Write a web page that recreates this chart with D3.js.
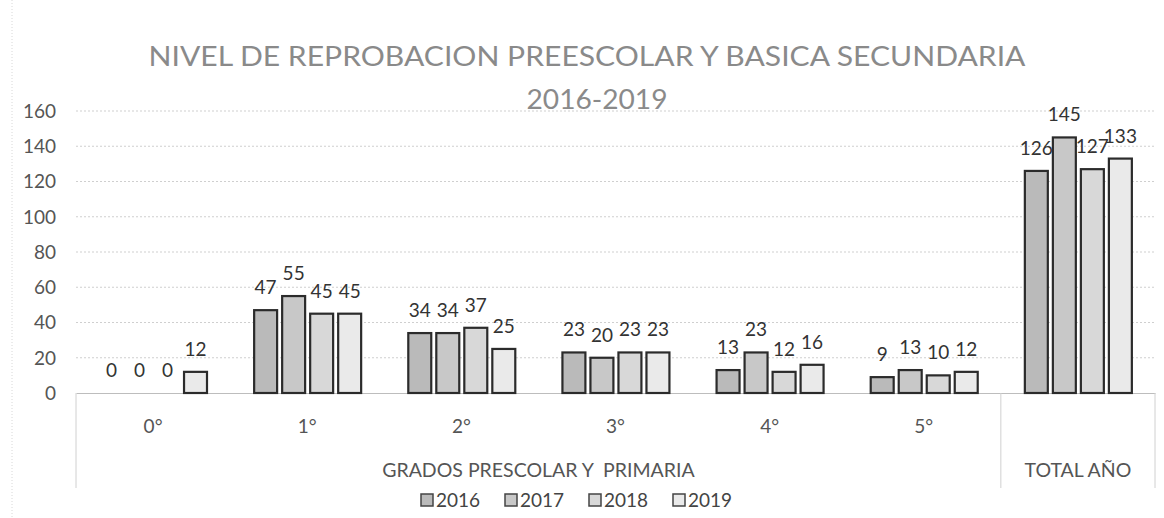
<!DOCTYPE html>
<html>
<head>
<meta charset="utf-8">
<script src="https://cdn.jsdelivr.net/npm/d3@7"></script>
<style>
  html, body { margin: 0; padding: 0; background: #fff; }
  svg { display: block; font-family: Lato, "Open Sans", sans-serif; }
</style>
</head>
<body>
<svg id="chart" width="1164" height="518"></svg>
<script>
// Categories (grades + yearly total) and series per year
const categories = ["0°", "1°", "2°", "3°", "4°", "5°", "TOTAL AÑO"];
const tickLabels = ["0°", "1°", "2°", "3°", "4°", "5°", ""];
const years = ["2016", "2017", "2018", "2019"];
const values2016 = [0, 47, 34, 23, 13, 9, 126];
const values2017 = [0, 55, 34, 20, 23, 13, 145];
const values2018 = [0, 45, 37, 23, 12, 10, 127];
const values2019 = [12, 45, 25, 23, 16, 12, 133];
const yTicks = [0, 20, 40, 60, 80, 100, 120, 140, 160];
const groupLabels = ["GRADOS PRESCOLAR Y  PRIMARIA", "TOTAL AÑO"];
const titleLine1 = "NIVEL DE REPROBACION PREESCOLAR Y BASICA SECUNDARIA";
const titleLine2 = "2016-2019";

const series = [values2016, values2017, values2018, values2019];
const fills = ["#bababa", "#c8c8c8", "#d8d8d8", "#eaeaea"];

const svg = d3.select("#chart");
const plotLeft = 76, plotRight = 1155, plotTop = 111, plotBottom = 393;

const x0 = d3.scaleBand().domain(categories).range([plotLeft, plotRight]).padding(0);
const x1 = d3.scaleBand().domain(years).range([24, 131]).paddingInner(0.18).paddingOuter(0);
const y = d3.scaleLinear().domain([0, 160]).range([plotBottom, plotTop]);

// chart frame hint on the left
svg.append("line").attr("x1", 12).attr("x2", 12).attr("y1", 0).attr("y2", 518)
  .attr("stroke", "#d8d8d8").attr("stroke-dasharray", "1,2");

// Title
svg.append("text").attr("x", 587).attr("y", 66).attr("text-anchor", "middle")
  .attr("font-size", 27).attr("fill", "#8a8a8a").attr("font-weight", 400)
  .attr("textLength", 877).attr("lengthAdjust", "spacingAndGlyphs")
  .text(titleLine1);
svg.append("text").attr("x", 597).attr("y", 109).attr("text-anchor", "middle")
  .attr("font-size", 27).attr("fill", "#8a8a8a").attr("font-weight", 400)
  .attr("textLength", 141).attr("lengthAdjust", "spacingAndGlyphs")
  .text(titleLine2);

// Gridlines
svg.append("g").selectAll("line").data(yTicks.filter(d => d > 0)).join("line")
  .attr("x1", plotLeft).attr("x2", plotRight)
  .attr("y1", d => y(d)).attr("y2", d => y(d))
  .attr("stroke", "#cfcfcf").attr("stroke-dasharray", "2,2");

// Y axis
const yAxis = d3.axisLeft(y).tickValues(yTicks).tickSize(0).tickPadding(20);
const gy = svg.append("g").attr("transform", `translate(${plotLeft},0)`).call(yAxis);
gy.select(".domain").remove();
gy.selectAll("text").attr("font-size", 19).attr("fill", "#555")
  .attr("font-family", "Lato, sans-serif").attr("dy", "0.34em");

// Category axis (multi-level)
const xAxis = d3.axisBottom(x0).tickSize(0).tickPadding(27).tickFormat((d, i) => tickLabels[i]);
const gx = svg.append("g").attr("transform", `translate(0,${plotBottom})`).call(xAxis);
gx.select(".domain").attr("stroke", "#bdbdbd").attr("stroke-width", 1);
gx.selectAll("text").attr("font-size", 19).attr("fill", "#555")
  .attr("font-family", "Lato, sans-serif");

const groupEdges = [plotLeft, x0("TOTAL AÑO"), plotRight];
svg.append("g").selectAll("line").data(groupEdges).join("line")
  .attr("x1", d => d).attr("x2", d => d).attr("y1", plotBottom).attr("y2", 488)
  .attr("stroke", "#d0d0d0").attr("stroke-width", 1);
svg.append("g").selectAll("text").data(groupLabels).join("text")
  .attr("x", (d, i) => (groupEdges[i] + groupEdges[i + 1]) / 2)
  .attr("y", 477).attr("text-anchor", "middle")
  .attr("font-size", 19.5).attr("fill", "#555")
  .attr("xml:space", "preserve").style("white-space", "pre")
  .text(d => d);

// Bars
const groups = svg.append("g").selectAll("g").data(categories).join("g")
  .attr("transform", d => `translate(${x0(d)},0)`);

groups.selectAll("rect")
  .data((c, ci) => years.map((yr, si) => ({ yr, si, v: series[si][ci] })).filter(d => d.v > 0))
  .join("rect")
  .attr("x", d => x1(d.yr))
  .attr("width", x1.bandwidth())
  .attr("y", d => y(d.v))
  .attr("height", d => y(0) - y(d.v))
  .attr("fill", d => fills[d.si])
  .attr("stroke", "#2b2b2b").attr("stroke-width", 2.2);

groups.selectAll("text")
  .data((c, ci) => years.map((yr, si) => ({ yr, si, v: series[si][ci] })))
  .join("text")
  .attr("x", d => x1(d.yr) + x1.bandwidth() / 2)
  .attr("y", d => y(d.v) - 16)
  .attr("text-anchor", "middle")
  .attr("font-size", 19).attr("fill", "#333")
  .text(d => d.v);

// Legend
const legend = svg.append("g").attr("transform", "translate(421,500)");
const item = legend.selectAll("g").data(years).join("g")
  .attr("transform", (d, i) => `translate(${i * 84},0)`);
item.append("rect").attr("x", 0).attr("y", -6).attr("width", 12).attr("height", 12)
  .attr("fill", (d, i) => fills[i]).attr("stroke", "#444").attr("stroke-width", 1.5);
item.append("text").attr("x", 15).attr("y", 7).attr("font-size", 19).attr("fill", "#444")
  .text(d => d);
</script>
</body>
</html>
